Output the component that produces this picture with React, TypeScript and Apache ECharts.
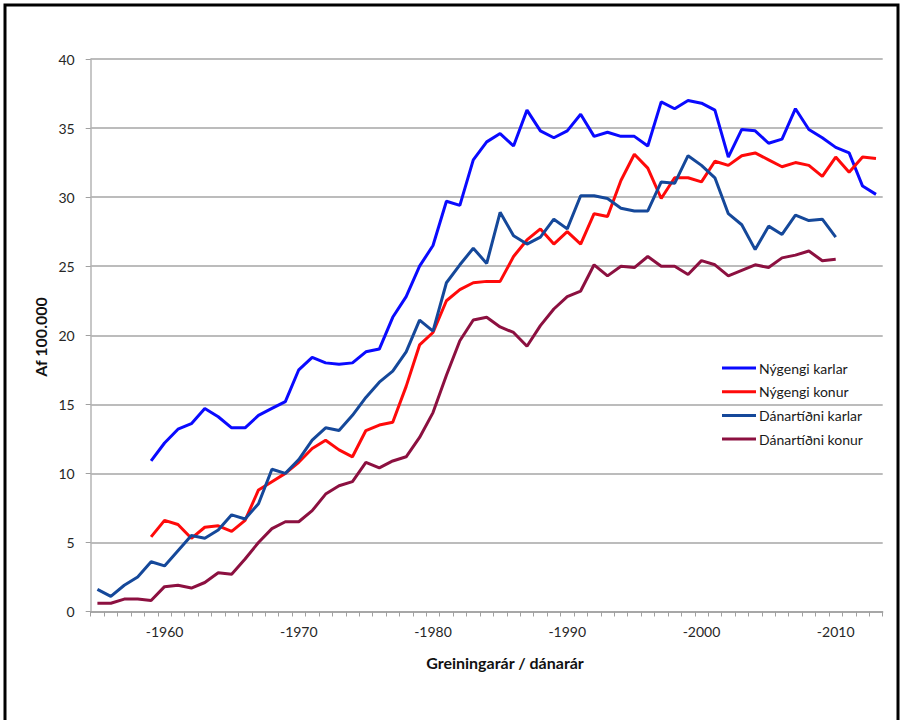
import React, { useEffect, useRef } from "react";
import * as echarts from "echarts";

const years: string[] = [];
for (let y = 1955; y <= 2013; y++) years.push(String(y));

const nyKarlar: (number | null)[] = [
  null, null, null, null, 10.9, 12.2, 13.2, 13.6, 14.7, 14.1, 13.3, 13.3, 14.2, 14.7, 15.2,
  17.5, 18.4, 18.0, 17.9, 18.0, 18.8, 19.0, 21.3, 22.8, 25.0, 26.5, 29.7, 29.4, 32.7, 34.0,
  34.6, 33.7, 36.3, 34.8, 34.3, 34.8, 36.0, 34.4, 34.7, 34.4, 34.4, 33.7, 36.9, 36.4, 37.0,
  36.8, 36.3, 32.9, 34.9, 34.8, 33.9, 34.2, 36.4, 34.9, 34.3, 33.6, 33.2, 30.8, 30.2,
];

const nyKonur: (number | null)[] = [
  null, null, null, null, 5.4, 6.6, 6.3, 5.3, 6.1, 6.2, 5.8, 6.6, 8.8, 9.4, 10.0,
  10.8, 11.8, 12.4, 11.7, 11.2, 13.1, 13.5, 13.7, 16.3, 19.3, 20.2, 22.5, 23.3, 23.8, 23.9,
  23.9, 25.7, 26.9, 27.7, 26.6, 27.5, 26.6, 28.8, 28.6, 31.2, 33.1, 32.1, 29.9, 31.4, 31.4,
  31.1, 32.6, 32.3, 33.0, 33.2, 32.7, 32.2, 32.5, 32.3, 31.5, 32.9, 31.8, 32.9, 32.8,
];

const danKarlar: (number | null)[] = [
  1.6, 1.1, 1.9, 2.5, 3.6, 3.3, 4.4, 5.5, 5.3, 5.9, 7.0, 6.7, 7.8, 10.3, 10.0,
  11.0, 12.4, 13.3, 13.1, 14.2, 15.5, 16.6, 17.4, 18.8, 21.1, 20.3, 23.8, 25.1, 26.3, 25.2,
  28.9, 27.2, 26.6, 27.1, 28.4, 27.7, 30.1, 30.1, 29.9, 29.2, 29.0, 29.0, 31.1, 31.0, 33.0,
  32.3, 31.4, 28.8, 28.0, 26.2, 27.9, 27.3, 28.7, 28.3, 28.4, 27.1, null, null, null,
];

const danKonur: (number | null)[] = [
  0.6, 0.6, 0.9, 0.9, 0.8, 1.8, 1.9, 1.7, 2.1, 2.8, 2.7, 3.8, 5.0, 6.0, 6.5,
  6.5, 7.3, 8.5, 9.1, 9.4, 10.8, 10.4, 10.9, 11.2, 12.6, 14.4, 17.1, 19.6, 21.1, 21.3,
  20.6, 20.2, 19.2, 20.7, 21.9, 22.8, 23.2, 25.1, 24.3, 25.0, 24.9, 25.7, 25.0, 25.0, 24.4,
  25.4, 25.1, 24.3, 24.7, 25.1, 24.9, 25.6, 25.8, 26.1, 25.4, 25.5, null, null, null,
];

const seriesNames = ["Nýgengi karlar", "Nýgengi konur", "Dánartíðni karlar", "Dánartíðni konur"];
const seriesColors = ["#0a0aff", "#ff0a0a", "#15489a", "#8c1040"];
const seriesData = [nyKarlar, nyKonur, danKarlar, danKonur];

const yTicks = { min: 0, max: 40, interval: 5 };
const xAxisTitle = "Greiningarár / dánarár";
const yAxisTitle = "Af 100.000";

export default function App() {
  const ref = useRef<HTMLDivElement>(null);
  useEffect(() => {
    if (!ref.current) return;
    const chart = echarts.init(ref.current, undefined, { renderer: "svg" });
    const font = "Lato, 'Open Sans', sans-serif";
    chart.setOption({
      animation: false,
      backgroundColor: "#ffffff",
      grid: { left: 90.7, right: 21.3, top: 59, bottom: 108.5, containLabel: false },
      legend: {
        orient: "vertical",
        left: 717,
        top: 356,
        icon: "rect",
        itemWidth: 34,
        itemHeight: 3,
        itemGap: 9.7,
        data: seriesNames,
        textStyle: { fontFamily: font, fontSize: 14, lineHeight: 14, color: "#1a1a1a", padding: [0, 0, 0, -2] },
      },
      xAxis: {
        type: "category",
        data: years,
        boundaryGap: true,
        axisLine: { show: true, lineStyle: { color: "#a0a0a0", width: 1.5 } },
        axisTick: { show: true, interval: 0, length: 5, lineStyle: { color: "#a0a0a0", width: 1 } },
        axisLabel: {
          interval: (idx: number, val: string) => Number(val) % 10 === 0,
          formatter: (v: string) => "-" + v,
          fontFamily: font,
          fontSize: 14,
          color: "#262626",
          margin: 13,
        },
        splitLine: { show: false },
      },
      yAxis: {
        type: "value",
        min: yTicks.min,
        max: yTicks.max,
        interval: yTicks.interval,
        axisLine: { show: true, lineStyle: { color: "#b4b4b4", width: 1.5 } },
        axisTick: { show: true, length: 5, lineStyle: { color: "#a0a0a0" } },
        axisLabel: { fontFamily: font, fontSize: 14, color: "#262626", margin: 16 },
        splitLine: { show: true, lineStyle: { color: "#a6a6a6", width: 1.5 } },
      },
      series: seriesData.map((d, i) => ({
        name: seriesNames[i],
        type: "line",
        data: d,
        symbol: "none",
        showSymbol: false,
        connectNulls: false,
        color: seriesColors[i],
        lineStyle: { width: 3, color: seriesColors[i] },
        emphasis: { disabled: true },
      })),
      graphic: [
        {
          type: "rect",
          shape: { x: 5, y: 5, width: 893, height: 800 },
          style: { fill: "none", stroke: "#000", lineWidth: 3 },
          silent: true,
        },
        {
          type: "text",
          x: 505,
          y: 662,
          style: {
            text: xAxisTitle,
            fontFamily: font,
            fontSize: 16,
            fontWeight: "bold",
            fill: "#111",
            align: "center",
            verticalAlign: "middle",
          },
        },
        {
          type: "text",
          x: 40,
          y: 337,
          rotation: Math.PI / 2,
          style: {
            text: yAxisTitle,
            fontFamily: font,
            fontSize: 16,
            fontWeight: "bold",
            fill: "#111",
            align: "center",
            verticalAlign: "middle",
          },
        },
      ],
    });
    return () => chart.dispose();
  }, []);
  return (
    <div
      ref={ref}
      style={{ position: "fixed", left: 0, top: 0, width: 904, height: 720, background: "#fff" }}
    />
  );
}
